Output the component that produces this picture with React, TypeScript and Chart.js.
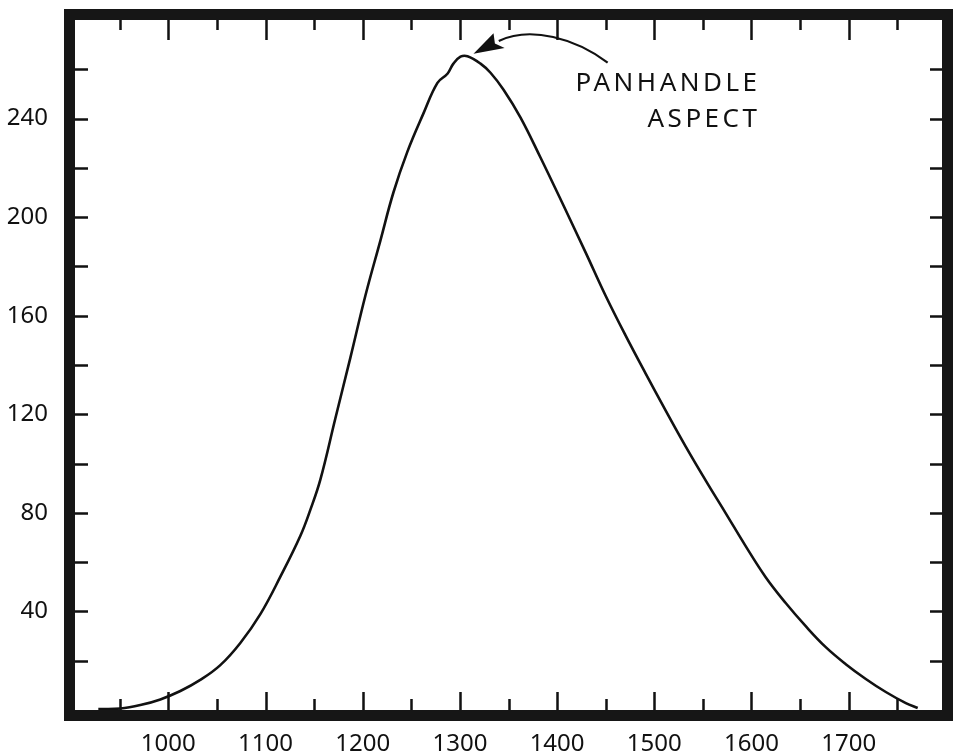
import React, { useEffect, useRef } from "react";
import { Chart, registerables } from "chart.js";

Chart.register(...registerables);

// Data
const xValues = [928, 950.6, 971.2, 991.8, 1012.4, 1032.9, 1053.5, 1074.1, 1094.7, 1115.3, 1135.9, 1146.2, 1156.5, 1171.9, 1187.4, 1202.8, 1218.2, 1231.6, 1246, 1262.4, 1276.9, 1287.2, 1293.3, 1300.6, 1307.8, 1321.2, 1331.5, 1344.9, 1362.4, 1382.9, 1406.6, 1429.3, 1449.8, 1470.4, 1491, 1511.6, 1532.2, 1552.8, 1573.4, 1594, 1614.6, 1635.2, 1655.8, 1676.4, 1697, 1717.6, 1738.2, 1758.8, 1771];
const yValues = [0.4, 0.6, 2.0, 4.3, 7.7, 12.2, 18.2, 27.2, 38.9, 54.1, 70.7, 81.3, 93.6, 118.4, 143.1, 168.2, 190.5, 210.0, 226.6, 242.0, 254.5, 258.2, 262.3, 265.1, 265.3, 262.3, 258.6, 251.7, 240.4, 224.2, 204.7, 185.7, 168.2, 152.0, 136.6, 121.6, 107.0, 93.2, 79.9, 66.5, 53.9, 43.4, 34.0, 25.5, 18.6, 12.6, 7.3, 2.8, 0.8];

const xLabelTicks = [1000, 1100, 1200, 1300, 1400, 1500, 1600, 1700];
const xMarkTicks = [950, 1000, 1050, 1100, 1150, 1200, 1250, 1300, 1350, 1400, 1450, 1500, 1550, 1600, 1650, 1700, 1750];
const yLabelTicks = [40, 80, 120, 160, 200, 240];
const yMarkTicks = [20, 40, 60, 80, 100, 120, 140, 160, 180, 200, 220, 240, 260];
const annotationLines = ["PANHANDLE", "ASPECT"];

const X_MIN = 904;
const X_MAX = 1796;
const Y_MIN = 0;
const Y_MAX = 280;

const FONT = "'Noto Sans', 'Open Sans', sans-serif";

const framePlugin = {
  id: "frame",
  afterDraw(chart: any) {
    const { ctx, chartArea } = chart;
    const xs = chart.scales.x;
    const ys = chart.scales.y;
    const { left, right, top, bottom } = chartArea;
    ctx.save();
    // ticks
    ctx.strokeStyle = "#111";
    ctx.lineWidth = 2.5;
    ctx.lineCap = "butt";
    ctx.beginPath();
    for (const v of xMarkTicks) {
      const px = Math.round(xs.getPixelForValue(v)) + 0.5;
      const major = v % 100 === 0;
      ctx.moveTo(px, bottom);
      ctx.lineTo(px, bottom - (major ? 18 : 11));
      ctx.moveTo(px, top);
      ctx.lineTo(px, top + (major ? 20 : 10));
    }
    for (const v of yMarkTicks) {
      const py = Math.round(ys.getPixelForValue(v)) + 0.5;
      ctx.moveTo(left, py);
      ctx.lineTo(left + 13, py);
      ctx.moveTo(right, py);
      ctx.lineTo(right - 12, py);
    }
    ctx.stroke();
    // frame
    ctx.lineWidth = 11;
    ctx.strokeStyle = "#161616";
    ctx.strokeRect(left - 5.5, top - 5.5, right - left + 11, bottom - top + 11);

    // annotation
    const P = (x: number, y: number) => [xs.getPixelForValue(x), ys.getPixelForValue(y)];
    ctx.fillStyle = "#111";
    ctx.font = `400 26px ${FONT}`;
    (ctx as any).letterSpacing = "3.5px";
    ctx.textBaseline = "alphabetic";
    ctx.textAlign = "left";
    const [t1x, t1y] = P(1419, 251);
    ctx.fillText(annotationLines[0], t1x, t1y);
    const [t2x, t2y] = P(1493, 236.5);
    ctx.fillText(annotationLines[1], t2x, t2y);
    (ctx as any).letterSpacing = "0px";

    // arrow
    const s = P(1452, 262.7);
    const c1 = P(1419, 272.5);
    const c2 = P(1372.7, 277.7);
    const e = P(1340, 271.5);
    ctx.lineWidth = 2.2;
    ctx.strokeStyle = "#111";
    ctx.beginPath();
    ctx.moveTo(s[0], s[1]);
    ctx.bezierCurveTo(c1[0], c1[1], c2[0], c2[1], e[0], e[1]);
    ctx.stroke();
    const tip = P(1314, 266.3);
    const b1 = P(1334.6, 274.6);
    const b2 = P(1346, 268.6);
    const notch = P(1336, 270.5);
    ctx.beginPath();
    ctx.moveTo(tip[0], tip[1]);
    ctx.lineTo(b1[0], b1[1]);
    ctx.lineTo(notch[0], notch[1]);
    ctx.lineTo(b2[0], b2[1]);
    ctx.closePath();
    ctx.fill();
    ctx.restore();
  },
};

export default function App() {
  const ref = useRef<HTMLCanvasElement | null>(null);
  useEffect(() => {
    if (!ref.current) return;
    const chart = new Chart(ref.current, {
      type: "scatter",
      data: {
        datasets: [
          {
            data: xValues.map((x, i) => ({ x, y: yValues[i] })),
            showLine: true,
            borderColor: "#111",
            borderWidth: 2.6,
            pointRadius: 0,
            tension: 0.4,
            fill: false,
          } as any,
        ],
      },
      options: {
        responsive: false,
        animation: false,
        events: [],
        layout: { padding: { top: 20, right: 16, left: 0, bottom: 0 } },
        plugins: { legend: { display: false }, tooltip: { enabled: false } },
        scales: {
          x: {
            type: "linear",
            min: X_MIN,
            max: X_MAX,
            afterBuildTicks: (s: any) => {
              s.ticks = xLabelTicks.map((v) => ({ value: v }));
            },
            afterFit: (s: any) => {
              s.height = 45;
              s.paddingLeft = 0;
              s.paddingRight = 0;
              s.paddingTop = 0;
              s.paddingBottom = 0;
            },
            grid: { display: false, drawTicks: false },
            border: { display: false },
            ticks: {
              color: "#111",
              padding: 20,
              maxRotation: 0,
              autoSkip: false,
              font: { family: FONT, size: 24 },
              callback: (v: any) => String(v),
            },
          },
          y: {
            type: "linear",
            min: Y_MIN,
            max: Y_MAX,
            afterBuildTicks: (s: any) => {
              s.ticks = yLabelTicks.map((v) => ({ value: v }));
            },
            afterFit: (s: any) => {
              s.width = 75;
              s.paddingLeft = 0;
              s.paddingRight = 0;
              s.paddingTop = 0;
              s.paddingBottom = 0;
            },
            grid: { display: false, drawTicks: false },
            border: { display: false },
            ticks: {
              color: "#111",
              padding: 27,
              autoSkip: false,
              font: { family: FONT, size: 24 },
              callback: (v: any) => String(v),
            },
          },
        },
      },
      plugins: [framePlugin],
    });
    return () => chart.destroy();
  }, []);
  return (
    <div style={{ position: "fixed", left: 0, top: 0, width: 958, height: 755, background: "#fff" }}>
      <canvas ref={ref} width={958} height={755} style={{ display: "block" }} />
    </div>
  );
}
